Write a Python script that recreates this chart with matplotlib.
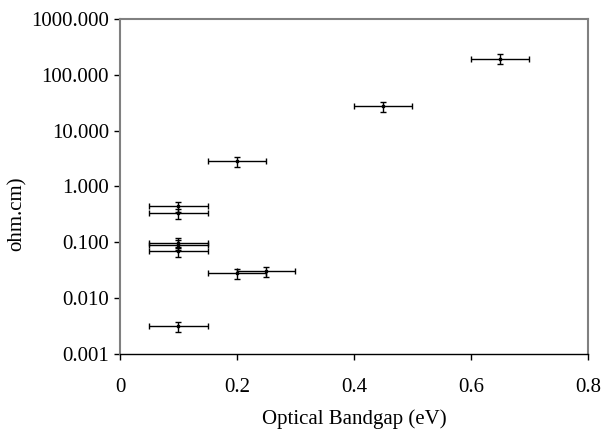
import matplotlib
matplotlib.use("Agg")
import matplotlib.pyplot as plt
from matplotlib.ticker import FixedLocator, FixedFormatter

# Optical bandgap (eV) vs resistivity (ohm.cm)
bandgap = [0.65, 0.45, 0.20, 0.10, 0.10, 0.10, 0.10, 0.10, 0.20, 0.25, 0.10]
resistivity = [195, 27, 2.8, 0.44, 0.33, 0.098, 0.090, 0.069, 0.028, 0.030, 0.0031]
bandgap_err = [0.05, 0.05, 0.05, 0.05, 0.05, 0.05, 0.05, 0.05, 0.05, 0.05, 0.05]
resistivity_rel_err = 0.2

y_ticks = [0.001, 0.01, 0.1, 1, 10, 100, 1000]
y_labels = ["0.001", "0.010", "0.100", "1.000", "10.000", "100.000", "1000.000"]
x_ticks = [0, 0.2, 0.4, 0.6, 0.8]
x_labels = ["0", "0.2", "0.4", "0.6", "0.8"]

plt.rcParams["font.family"] = ["Liberation Serif", "DejaVu Serif"]

fig = plt.figure(figsize=(6.03, 4.29), dpi=100)
ax = fig.add_axes([0.199, 0.175, 0.776, 0.781])

yerr = [[r * resistivity_rel_err for r in resistivity],
        [r * resistivity_rel_err for r in resistivity]]
ax.errorbar(bandgap, resistivity, xerr=bandgap_err, yerr=yerr,
            fmt="s", ms=2, color="black", ecolor="black", elinewidth=1.0,
            capsize=2.5, capthick=1.0)

ax.set_yscale("log")
ax.set_xlim(0, 0.8)
ax.set_ylim(0.001, 1000)
ax.yaxis.set_major_locator(FixedLocator(y_ticks))
ax.yaxis.set_major_formatter(FixedFormatter(y_labels))
ax.yaxis.set_minor_locator(FixedLocator([]))
ax.set_xticks(x_ticks)
ax.set_xticklabels(x_labels)

for side in ["left", "top", "right"]:
    ax.spines[side].set_color("#808080")
    ax.spines[side].set_linewidth(1.5)
ax.spines["bottom"].set_color("black")
ax.spines["bottom"].set_linewidth(1.0)

ax.tick_params(axis="both", labelsize=15, direction="out", length=4, width=1)
ax.tick_params(axis="x", pad=13)
ax.tick_params(axis="y", pad=4)

ax.set_xlabel("Optical Bandgap (eV)", fontsize=15, labelpad=9)
ax.set_ylabel("ohm.cm)", fontsize=15)
ax.yaxis.set_label_coords(-0.199, 0.418)

fig.savefig("out.png", dpi=100)
